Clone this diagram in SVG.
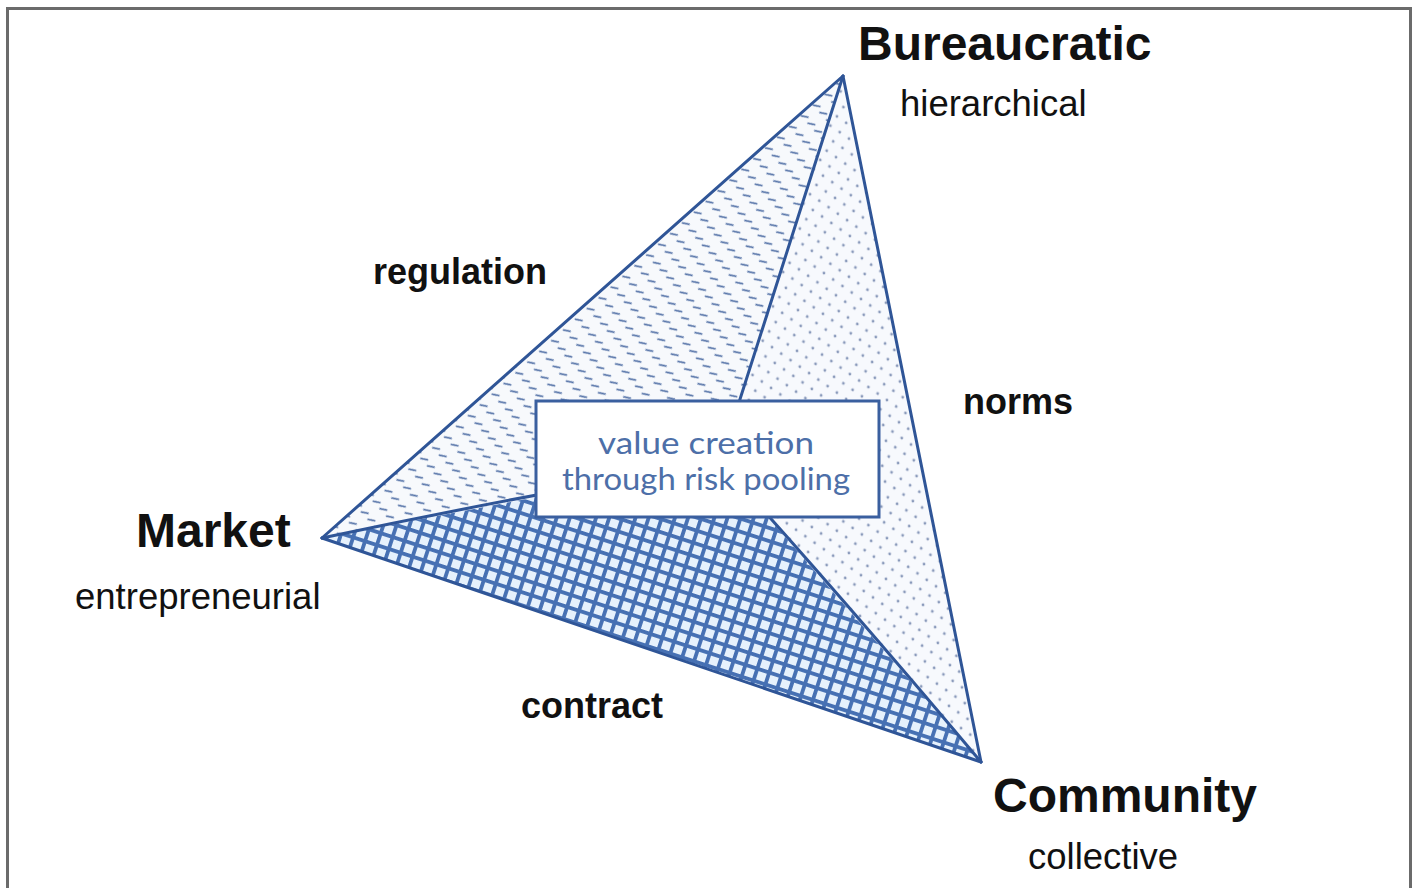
<svg xmlns="http://www.w3.org/2000/svg" width="1418" height="888" viewBox="0 0 1418 888">
<style>
.lbl{font-family:"Liberation Sans",Arial,sans-serif;fill:#111}
.big{font-size:48px;font-weight:bold}
.sub{font-size:36.5px}
.edge{font-size:36px;font-weight:bold}
.boxt{font-family:"Lato","Open Sans",sans-serif;font-size:30px;fill:#4d6fa8}
.ln{fill:none;stroke:#2f5597;stroke-width:3;stroke-linejoin:round;stroke-linecap:round}
</style>
<defs>
<pattern id="dash" width="16" height="10" patternUnits="userSpaceOnUse" patternTransform="rotate(-42)">
<rect width="16" height="10" fill="#f7f9fc"/>
<line x1="5.6" y1="1.8" x2="10.4" y2="8.2" stroke="#5573a8" stroke-width="1.7"/>
</pattern>
<pattern id="dots" width="16" height="16" patternUnits="userSpaceOnUse" patternTransform="rotate(-10)">
<rect width="16" height="16" fill="#f7f9fd"/>
<circle cx="4" cy="4" r="1.4" fill="#8a9abb"/>
<circle cx="12" cy="12" r="1.4" fill="#8a9abb"/>
</pattern>
<pattern id="grid" width="12.5" height="12.5" patternUnits="userSpaceOnUse" patternTransform="rotate(18)">
<rect width="12.5" height="12.5" fill="#e6f1fc"/>
<rect x="0" y="0" width="12.5" height="3.8" fill="#4670b3"/>
<rect x="0" y="0" width="3.8" height="12.5" fill="#4670b3"/>
</pattern>
</defs>
<rect x="0" y="0" width="1418" height="888" fill="#fff"/>
<rect x="7.5" y="8.5" width="1403" height="900" fill="#fff" stroke="#6b6b6b" stroke-width="3"/>

<g id="regions">
<path id="region-regulation" d="M322,538 L843,76 L720,462 Z" fill="url(#dash)"/>
<path id="region-norms" d="M843,76 L981,762 L720,462 Z" fill="url(#dots)"/>
<path id="region-contract" d="M322,538 L720,462 L981,762 Z" fill="url(#grid)"/>
</g>

<g id="connectors">
<path class="ln" d="M322,538 L843,76"/>
<path class="ln" d="M843,76 L981,762"/>
<path class="ln" d="M322,538 L981,762" stroke-width="3.5"/>
<path class="ln" d="M843,76 L720,462"/>
<path class="ln" d="M322,538 Q520,496 720,462"/>
<path class="ln" d="M981,762 Q845,600 720,462"/>
</g>

<g id="node-bureaucratic">
<text class="lbl big" x="858" y="60">Bureaucratic</text>
<text class="lbl sub" x="900" y="116">hierarchical</text>
</g>
<g id="node-market">
<text class="lbl big" x="136" y="547">Market</text>
<text class="lbl sub" x="75" y="609">entrepreneurial</text>
</g>
<g id="node-community">
<text class="lbl big" x="993" y="812">Community</text>
<text class="lbl sub" x="1028" y="869">collective</text>
</g>
<g id="node-center">
<rect x="536" y="401" width="343" height="116" fill="#fff" stroke="#3a5f9f" stroke-width="3"/>
<text class="boxt" x="706" y="454" text-anchor="middle" textLength="216" lengthAdjust="spacingAndGlyphs">value creation</text>
<text class="boxt" x="706" y="490" text-anchor="middle" textLength="288" lengthAdjust="spacingAndGlyphs">through risk pooling</text>
</g>
<g id="edge-labels">
<text class="lbl edge" x="373" y="284">regulation</text>
<text class="lbl edge" x="963" y="414">norms</text>
<text class="lbl edge" x="521" y="718">contract</text>
</g>
</svg>
